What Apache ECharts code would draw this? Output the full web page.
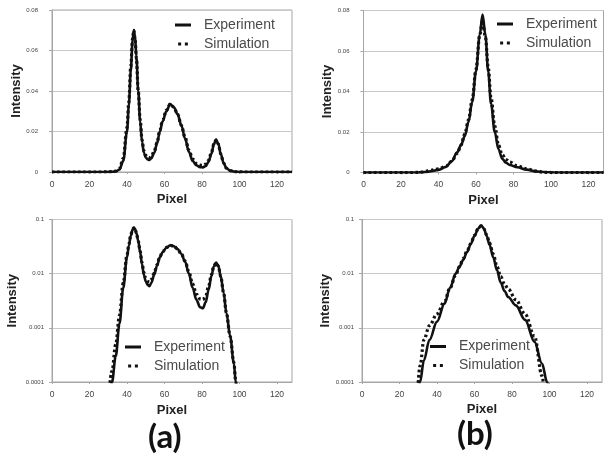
<!DOCTYPE html>
<html><head><meta charset="utf-8">
<script src="https://cdn.jsdelivr.net/npm/echarts@6/dist/echarts.min.js"></script>
<style>html,body{margin:0;padding:0;background:#fff}#c{width:614px;height:458px}</style>
</head><body><div id="c"></div>
<script>
// ---- data ----
const pixelA = [0,10,20,26,29,32,34,36,38,40,41,42,43,43.6,44.3,45,46,47,48,49,50,51,52,53,54.5,56,57.5,59,61,63,65,67,69,71,73,75,77,79,80.5,82,83.5,85,86.3,87.5,88.7,90,91.5,93,95,97,98,100,104,112,120,128];
const expA = [1e-8,1e-8,1e-8,2e-6,1.2e-5,0.0001,0.0003,0.0012,0.0055,0.020,0.033,0.050,0.065,0.070,0.067,0.057,0.040,0.025,0.015,0.0095,0.0072,0.0062,0.0059,0.0068,0.0095,0.0140,0.0200,0.0250,0.0300,0.0335,0.0320,0.0285,0.0230,0.0165,0.0100,0.0055,0.0033,0.0024,0.0023,0.0030,0.0050,0.0090,0.0135,0.0160,0.0140,0.0090,0.0045,0.0019,0.0007,0.00022,0.0001,0.00002,1e-7,1e-8,1e-8,1e-8];
const simA = [1e-8,1e-8,1e-8,4e-6,2.5e-5,0.00016,0.0005,0.0017,0.0068,0.022,0.035,0.052,0.066,0.070,0.066,0.056,0.040,0.026,0.016,0.0105,0.0082,0.0072,0.0070,0.0078,0.0102,0.0145,0.0205,0.0255,0.0305,0.0335,0.0320,0.0285,0.0230,0.0170,0.0108,0.0065,0.0042,0.0034,0.0033,0.0039,0.0058,0.0095,0.0138,0.0158,0.0138,0.0088,0.0045,0.0019,0.0007,0.00023,0.0001,0.00002,1e-7,1e-8,1e-8,1e-8];

const pixelB = [0,10,20,26,29,31,33,36,40,44,47,50,52,54,56,58,60,62,63.5,65,66.5,68,70,72,74,76,78,82,87,92,96,98.7,102,110,120,128];
const expB = [1e-8,1e-8,1e-8,3e-6,2.5e-5,0.0001,0.00025,0.0006,0.0013,0.0028,0.0055,0.010,0.0135,0.018,0.025,0.035,0.050,0.068,0.078,0.068,0.050,0.034,0.020,0.0115,0.0068,0.0048,0.0037,0.0026,0.0014,0.00055,0.00022,0.0001,0.00002,1e-7,1e-8,1e-8];
const simB = [1e-8,1e-8,1e-8,8e-6,5e-5,0.0002,0.0006,0.0011,0.0018,0.0031,0.0055,0.0095,0.0135,0.019,0.026,0.036,0.051,0.068,0.075,0.067,0.052,0.037,0.023,0.0135,0.0088,0.0064,0.0052,0.0033,0.0018,0.0007,0.00013,0.00002,3e-6,1e-8,1e-8,1e-8];

const xTicks = ['0','20','40','60','80','100','120'];
const linTicks = ['0','0.02','0.04','0.06','0.08'];
const logTicks = ['0.0001','0.001','0.01','0.1'];
const seriesNames = ['Experiment','Simulation'];
const panelLabels = ['(a)','(b)'];

// ---- chart ----
const zip = (xs, ys) => xs.map((x, i) => [x, ys[i]]);
const FONT = 'Liberation Sans, Arial, sans-serif';
const grids = [
  {left:52, top:10, width:240, height:162},
  {left:363.5, top:10.5, width:240, height:162},
  {left:52, top:219.5, width:240, height:162.5},
  {left:362, top:219.5, width:240, height:162.5}
];
const xNameGap = [21, 21, 22, 20.5];
const yNameGap = [28, 26, 33, 30];

const xAxes = grids.map((g, i) => ({
  gridIndex: i, type: 'value', min: 0, max: 128, interval: 20,
  axisLine: {show: true, lineStyle: {color: '#a6a6a6', width: 1}},
  axisTick: {show: true, length: 2, lineStyle: {color: '#a6a6a6'}},
  splitLine: {show: false},
  axisLabel: {showMaxLabel: false, fontSize: 8.5, color: '#444', margin: 8, fontFamily: FONT,
    formatter: v => xTicks[Math.round(v / 20)] || ''},
  name: 'Pixel', nameLocation: 'middle', nameGap: xNameGap[i],
  nameTextStyle: {fontWeight: 'bold', fontSize: 13, color: '#222', fontFamily: FONT}
}));

const yAxes = grids.map((g, i) => {
  const isLog = i >= 2;
  const base = {
    gridIndex: i,
    axisLine: {show: true, lineStyle: {color: '#a6a6a6', width: 1}},
    axisTick: {show: true, length: 3, lineStyle: {color: '#a6a6a6'}},
    splitLine: {show: true, lineStyle: {color: '#c8c8c8', width: 1}},
    name: 'Intensity', nameLocation: 'middle', nameGap: yNameGap[i],
    nameTextStyle: {fontWeight: 'bold', fontSize: 13, color: '#222', fontFamily: FONT}
  };
  if (isLog) {
    return Object.assign(base, {type: 'log', logBase: 10, min: 0.0001, max: 0.1,
      axisLabel: {fontSize: 6, color: '#444', margin: 8, fontFamily: FONT,
        formatter: v => logTicks[Math.round(Math.log10(v)) + 4] || ''}});
  }
  return Object.assign(base, {type: 'value', min: 0, max: 0.08, interval: 0.02,
    axisLabel: {fontSize: 6, color: '#444', margin: 14, fontFamily: FONT,
      formatter: v => linTicks[Math.round(v / 0.02)] || ''}});
});

const series = [];
const panelData = [[pixelA, expA, simA], [pixelB, expB, simB], [pixelA, expA, simA], [pixelB, expB, simB]];
panelData.forEach((p, i) => {
  series.push({
    name: seriesNames[0], type: 'line', xAxisIndex: i, yAxisIndex: i,
    data: zip(p[0], p[1]), showSymbol: false, smooth: 0.35, smoothMonotone: 'x',
    lineStyle: {color: '#111', width: 2.6}, itemStyle: {color: '#111'}, silent: true
  });
  series.push({
    name: seriesNames[1], type: 'line', xAxisIndex: i, yAxisIndex: i,
    data: zip(p[0], p[2]), showSymbol: false, smooth: 0.35, smoothMonotone: 'x',
    lineStyle: {color: '#111', width: 3.2, type: [2.6, 2.6], cap: 'butt'}, itemStyle: {color: '#111'}, silent: true
  });
});

const legendPos = [[175, 18], [497, 17], [125, 340], [430, 339.5]];
const legends = legendPos.map(pos => ({
  left: pos[0], top: pos[1], orient: 'vertical', selectedMode: false,
  itemWidth: 16, itemHeight: 3, itemGap: 5, padding: 0,
  textStyle: {fontSize: 14, color: '#4a4a4a', fontFamily: FONT, padding: [0, 0, 0, 8]},
  data: [
    {name: seriesNames[0], icon: 'rect'},
    {name: seriesNames[1], icon: 'path://M0,0h4v4h-4zM9,0h4v4h-4z'}
  ]
}));

const chart = echarts.init(document.getElementById('c'), null, {renderer: 'canvas'});
chart.setOption({
  animation: false,
  backgroundColor: '#fff',
  grid: grids.map(g => Object.assign({show: true, borderColor: '#a6a6a6', borderWidth: 1, backgroundColor: 'transparent'}, g)),
  xAxis: xAxes,
  yAxis: yAxes,
  legend: legends,
  series: series,
  graphic: [
    {type: 'text', left: 148, top: 421, style: {text: panelLabels[0], font: 'bold 33px Lato, "Open Sans", sans-serif', fill: '#111'}},
    {type: 'text', left: 457, top: 418, style: {text: panelLabels[1], font: 'bold 33px Lato, "Open Sans", sans-serif', fill: '#111'}}
  ]
});
</script></body></html>
